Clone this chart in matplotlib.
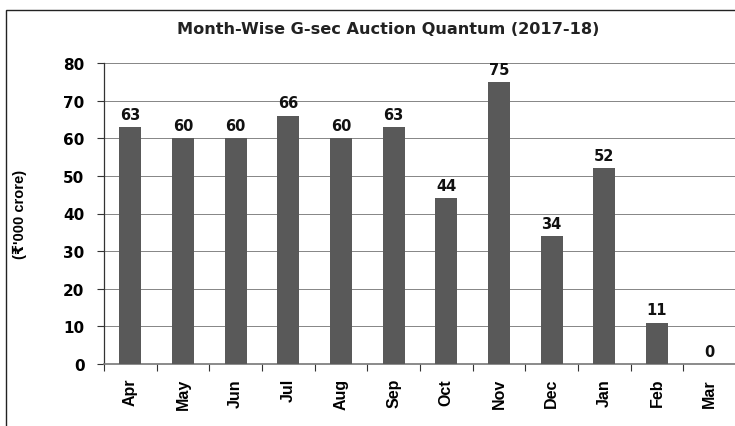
import matplotlib
matplotlib.use('Agg')
import matplotlib.pyplot as plt
from matplotlib.patches import Rectangle
import numpy as np

# data
months = ['Apr', 'May', 'Jun', 'Jul', 'Aug', 'Sep',
          'Oct', 'Nov', 'Dec', 'Jan', 'Feb', 'Mar']
quantum = [63, 60, 60, 66, 60, 63, 44, 75, 34, 52, 11, 0]
y_ticks = [0, 10, 20, 30, 40, 50, 60, 70, 80]

# the original text is a wide-ish Arial, DejaVu bold is closer in width
wide = ['DejaVu Sans']
narrow = ['Liberation Sans', 'DejaVu Sans']
plt.rcParams['font.family'] = narrow
plt.rcParams['font.weight'] = 'bold'

fig = plt.figure(figsize=(7.35, 4.27), dpi=100)
W, H = 735, 427
ax = fig.add_axes([104 / W, 1 - 365 / H, (736 - 104) / W, (365 - 64) / H])

# outer chart frame (cropped on the right and bottom in the original)
fig.patches.append(Rectangle((6 / W, -0.1), 1.2, 1 - 11 / H + 0.1,
                             transform=fig.transFigure, fill=False,
                             edgecolor='#222222', linewidth=1.0))

x = np.arange(len(months))
ax.bar(x, quantum, width=0.42, color='#595959', zorder=3)

# value labels above bars
for xi, v in zip(x, quantum):
    ax.text(xi, v + 1.4, str(v), ha='center', va='bottom', family=wide,
            fontsize=10.5, fontweight='bold', color='#111111')

ax.set_xlim(-0.5, 11.5)
ax.set_ylim(0, 80)
ax.set_yticks(y_ticks)
ax.set_yticklabels([str(t) for t in y_ticks], fontsize=11, family=wide,
                   fontweight='bold')
ax.yaxis.grid(True, color='#555555', linewidth=0.5, zorder=0)

# month labels at bar centres, tick marks at category boundaries
ax.set_xticks(x)
ax.set_xticklabels(months, rotation=90, fontsize=11.5, fontweight='bold')
ax.tick_params(axis='x', which='major', length=0, pad=10)
ax.set_xticks(np.arange(-0.5, 12, 1), minor=True)
ax.tick_params(axis='x', which='minor', length=5, width=0.8, color='#333333')
ax.tick_params(axis='y', length=5, width=0.8, color='#333333', pad=9)

for side in ['top', 'right']:
    ax.spines[side].set_visible(False)
ax.spines['left'].set_color('#333333')
ax.spines['bottom'].set_color('#777777')
ax.spines['left'].set_linewidth(0.9)
ax.spines['bottom'].set_linewidth(1.2)

ax.set_ylabel('(₹\'000 crore)', fontsize=10.5, fontweight='bold')
ax.yaxis.set_label_coords(-(104 - 27) / (736 - 104), 0.5)

fig.text(388 / W, 1 - 30 / H, 'Month-Wise G-sec Auction Quantum (2017-18)',
         ha='center', va='center', family=wide, fontsize=11.6,
         fontweight='bold', color='#222222')

fig.savefig('out.png', dpi=100)
